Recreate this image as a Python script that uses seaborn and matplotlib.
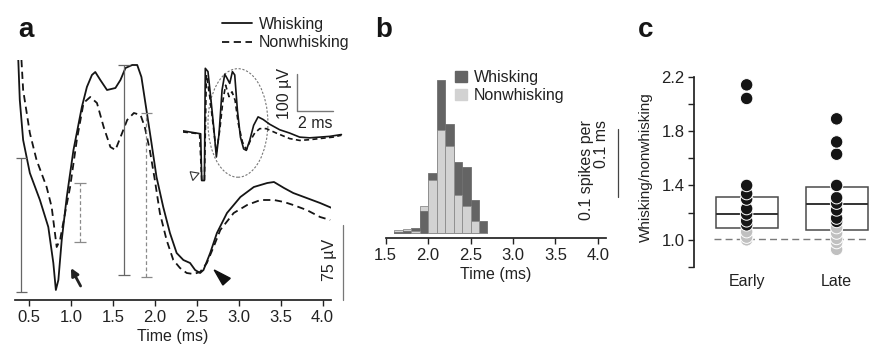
import numpy as np
import pandas as pd
import matplotlib
matplotlib.use("Agg")
import matplotlib.pyplot as plt
from matplotlib.lines import Line2D
from matplotlib.patches import Patch, Ellipse, Polygon
import seaborn as sns

# ---------------- data ----------------
# Panel a: averaged waveforms (time in ms, amplitude in uV above baseline)
t_whisk = [0.37, 0.39, 0.43, 0.51, 0.63, 0.73, 0.79, 0.82, 0.85, 0.89, 0.95, 1.03, 1.13, 1.19,
           1.25, 1.29, 1.35, 1.43, 1.53, 1.59, 1.65, 1.73, 1.79, 1.84, 1.90, 1.96, 2.02, 2.10,
           2.18, 2.26, 2.34, 2.42, 2.48, 2.54, 2.58, 2.66, 2.74, 2.86, 3.02, 3.18, 3.34, 3.42,
           3.54, 3.65, 3.81, 3.97, 4.11]
v_whisk = [245, 200, 160, 127, 100, 73, 37, 10, 20, 60, 103, 150, 193, 213,
           225, 228, 220, 210, 212, 220, 232, 235, 235, 223, 190, 157, 123, 93,
           67, 47, 40, 37, 30, 27, 30, 47, 67, 87, 103, 113, 117, 118,
           112, 107, 102, 97, 92]
t_nonwhisk = [0.41, 0.43, 0.51, 0.59, 0.71, 0.77, 0.83, 0.87, 0.93, 0.99, 1.07, 1.15, 1.23,
              1.31, 1.39, 1.47, 1.53, 1.61, 1.67, 1.75, 1.83, 1.88, 1.94, 2.00, 2.06, 2.14,
              2.22, 2.30, 2.38, 2.46, 2.54, 2.62, 2.70, 2.78, 2.94, 3.10, 3.26, 3.42, 3.54,
              3.65, 3.81, 3.97, 4.09]
v_nonwhisk = [240, 210, 167, 140, 113, 93, 53, 60, 87, 113, 160, 197, 203,
              197, 173, 153, 150, 167, 180, 187, 185, 173, 150, 120, 87, 60,
              40, 32, 27, 26, 28, 37, 53, 70, 87, 95, 100, 100, 98,
              95, 90, 83, 80]

# range bars in panel a: (time, low, high)
rng_whisk_t = [0.41, 1.63]
rng_whisk_lo = [8, 25]
rng_whisk_hi = [142, 235]
rng_non_t = [1.11, 1.90]
rng_non_lo = [58, 23]
rng_non_hi = [117, 187]

# inset raw traces (ms, uV)
ins_t_whisk = [0, 0.37, 0.75, 0.99, 1.05, 1.20, 1.25, 1.40, 1.55, 1.72, 1.87, 2.02, 2.19, 2.34,
               2.47, 2.62, 2.77, 2.90, 3.05, 3.22, 3.40, 3.55, 3.74, 3.96, 4.21, 4.49, 4.86,
               5.42, 5.98, 6.54, 7.10, 7.66, 8.22, 8.88]
ins_v_whisk = [3, 0, -3, -5, -132, -132, 173, 164, 96, 14, -68, -5, 114, 157,
               146, 132, 164, 155, 59, -14, -46, -50, -23, 18, 41, 34, 21,
               6, -3, -14, -16, -14, -12, -7]
ins_t_non = [0, 0.93, 1.05, 1.20, 1.31, 1.50, 1.68, 1.87, 2.06, 2.24, 2.39, 2.58, 2.75, 2.92,
             3.10, 3.33, 3.55, 3.78, 4.02, 4.30, 4.67, 5.23, 5.98, 6.54, 7.10, 7.66, 8.41, 8.88]
ins_v_non = [0, -5, -132, -132, 155, 96, 23, -55, 5, 86, 127, 96, 109, 86,
             23, -27, -48, -23, -3, 9, 9, -3, -18, -23, -21, -18, -14, -9]

# Panel b: latency histograms (spikes per 0.1 ms bin)
bin_edges = [1.6, 1.7, 1.8, 1.9, 2.0, 2.1, 2.2, 2.3, 2.4, 2.5, 2.6, 2.7]
bin_centers = [1.65, 1.75, 1.85, 1.95, 2.05, 2.15, 2.25, 2.35, 2.45, 2.55, 2.65]
hist_whisk = [0.002, 0.003, 0.008, 0.033, 0.088, 0.225, 0.160, 0.104, 0.097, 0.049, 0.017]
hist_nonwhisk = [0.004, 0.006, 0.003, 0.040, 0.078, 0.151, 0.128, 0.056, 0.040, 0.017, 0.0]

# Panel c: whisking / nonwhisking ratios
groups = ["Early", "Late"]
early_dark = [1.11, 1.14, 1.19, 1.23, 1.30, 1.34, 1.40, 2.04, 2.14]
early_gray = [1.00, 1.02, 1.06]
late_dark = [1.135, 1.16, 1.22, 1.27, 1.31, 1.40, 1.63, 1.72, 1.89]
late_gray = [0.93, 0.98, 1.01, 1.05, 1.09]
box_lo = [1.09, 1.075]
box_med = [1.19, 1.262]
box_hi = [1.314, 1.385]

# ---------------- style ----------------
sns.set_theme(style="ticks")
plt.rcParams["font.family"] = ["Liberation Sans", "DejaVu Sans"]
TXT = "#222222"
plt.rcParams.update({"text.color": TXT, "axes.labelcolor": TXT, "xtick.color": TXT,
                     "ytick.color": TXT, "axes.edgecolor": TXT})
TICK_FS = 12
LAB_FS = 11.5

W, H = 869, 350
fig = plt.figure(figsize=(W / 100, H / 100), dpi=100)


def frame(l, t, r, b):
    return [l / W, 1 - b / H, (r - l) / W, (b - t) / H]


# ---------------- panel a ----------------
ax_a = fig.add_axes(frame(15, 60, 331, 300))
sns.lineplot(x=t_whisk, y=v_whisk, ax=ax_a, color="#151515", lw=1.3, estimator=None, sort=False)
sns.lineplot(x=t_nonwhisk, y=v_nonwhisk, ax=ax_a, color="#151515", lw=1.3, estimator=None,
             sort=False, linestyle=(0, (4, 2.5)))
ax_a.set_xlim(0.333, 4.1)
ax_a.set_ylim(0, 240)
cap = 0.068
for x, lo, hi in zip(rng_whisk_t, rng_whisk_lo, rng_whisk_hi):
    ax_a.vlines(x, lo, hi, color="#666666", lw=0.9)
    ax_a.hlines([lo, hi], x - cap, x + cap, color="#666666", lw=0.9)
for x, lo, hi in zip(rng_non_t, rng_non_lo, rng_non_hi):
    ax_a.vlines(x, lo, hi, color="#8a8a8a", lw=0.9, linestyle=(0, (3, 2)))
    ax_a.hlines([lo, hi], x - cap, x + cap, color="#8a8a8a", lw=0.9)
ax_a.annotate("", xy=(1.0, 32), xytext=(1.115, 14),
              arrowprops=dict(arrowstyle="-|>", color="#222222", lw=2.0, mutation_scale=11,
                              shrinkA=0, shrinkB=0))
ax_a.add_patch(Polygon([(2.708, 30), (2.811, 15), (2.899, 21.7)], closed=True,
                       color="#111111"))
ax_a.plot([4.247, 4.247], [0, 75], color="#777777", lw=0.9, clip_on=False)
ax_a.text(4.08, 40, "75 µV", rotation=90, ha="center", va="center", fontsize=LAB_FS)
sns.despine(ax=ax_a, left=True)
ax_a.set_yticks([])
ax_a.set_xticks([0.5, 1.0, 1.5, 2.0, 2.5, 3.0, 3.5, 4.0])
ax_a.set_xticklabels(["0.5", "1.0", "1.5", "2.0", "2.5", "3.0", "3.5", "4.0"])
ax_a.tick_params(axis="x", length=4, width=1, labelsize=TICK_FS, pad=3)
ax_a.set_xlabel("Time (ms)", fontsize=LAB_FS, labelpad=3)
ax_a.set_ylabel("")
ax_a.legend(handles=[Line2D([], [], color="#151515", lw=1.3),
                     Line2D([], [], color="#151515", lw=1.3, linestyle=(0, (4, 2.5)))],
            labels=["Whisking", "Nonwhisking"], loc="center left",
            bbox_to_anchor=(222 / W, 1 - 33.5 / H), bbox_transform=fig.transFigure,
            frameon=False, handlelength=1.9, handletextpad=0.4, labelspacing=0.2,
            borderpad=0, borderaxespad=0, fontsize=LAB_FS)

# inset
ax_i = fig.add_axes(frame(183, 65, 343, 182))
sns.lineplot(x=ins_t_whisk, y=ins_v_whisk, ax=ax_i, color="#151515", lw=1.2,
             estimator=None, sort=False)
sns.lineplot(x=ins_t_non, y=ins_v_non, ax=ax_i, color="#151515", lw=1.2, estimator=None,
             sort=False, linestyle=(0, (3, 2)))
ax_i.set_xlim(0, 8.97)
ax_i.set_ylim(-136, 182)
ax_i.axis("off")
ax_i.add_patch(Ellipse((3.08, 24.5), 3.36, 295, fill=False, ec="#777777", lw=0.8,
                       linestyle=(0, (2, 1.5))))
ax_i.plot([6.41, 6.41, 8.41], [157.3, 57.3, 57.3], color="#777777", lw=1.0)
ax_i.text(5.70, 104, "100 µV", rotation=90, ha="center", va="center", fontsize=LAB_FS)
ax_i.text(7.40, 22, "2 ms", ha="center", va="center", fontsize=LAB_FS)
ax_i.add_patch(Polygon([(0.40, -108), (0.90, -112), (0.55, -132)], closed=True, fill=False,
                       ec="#333333", lw=0.8))

# ---------------- panel b ----------------
ax_b = fig.add_axes(frame(385.7, 70, 606.2, 238))
DARK, LIGHT = "#646464", "#d2d2d2"
n0 = len(ax_b.patches)
sns.histplot(x=bin_centers, weights=hist_whisk, bins=bin_edges, ax=ax_b, color=DARK,
             alpha=1, edgecolor="#707070", linewidth=0.6)
p_dark = ax_b.patches[n0:]
n1 = len(ax_b.patches)
sns.histplot(x=bin_centers, weights=hist_nonwhisk, bins=bin_edges, ax=ax_b, color=LIGHT,
             alpha=1, edgecolor="#8c8c8c", linewidth=0.6)
p_light = ax_b.patches[n1:]
for pd_, pl_, hd, hl in zip(p_dark, p_light, hist_whisk, hist_nonwhisk):
    if hl <= hd:
        pl_.set_zorder(3); pd_.set_zorder(2)
    else:
        pd_.set_zorder(3); pl_.set_zorder(2)
ax_b.set_xlim(1.5, 4.1)
ax_b.set_ylim(-0.0074, -0.0074 + 168 / 680)
sns.despine(ax=ax_b, left=True)
ax_b.set_yticks([])
ax_b.set_ylabel("")
ax_b.set_xticks([1.5, 2.0, 2.5, 3.0, 3.5, 4.0])
ax_b.set_xticklabels(["1.5", "2.0", "2.5", "3.0", "3.5", "4.0"])
ax_b.tick_params(axis="x", length=4, width=1, labelsize=TICK_FS, pad=3)
ax_b.set_xlabel("Time (ms)", fontsize=LAB_FS, labelpad=3)
xs = 4.1 + (618 - 606.2) / 84.8
ax_b.plot([xs, xs], [0.053, 0.153], color="#444444", lw=0.9, clip_on=False)
ax_b.text(xs - 0.28, 0.092, "0.1 spikes per\n0.1 ms", rotation=90, ha="center", va="center",
          multialignment="right", fontsize=LAB_FS, linespacing=1.0)
ax_b.legend(handles=[Patch(fc=DARK, ec=DARK), Patch(fc=LIGHT, ec=LIGHT)],
            labels=["Whisking", "Nonwhisking"], loc="center left",
            bbox_to_anchor=(455 / W, 1 - 86.5 / H), bbox_transform=fig.transFigure,
            frameon=False, handlelength=0.72, handleheight=0.72, handletextpad=0.45,
            labelspacing=0.2, borderpad=0, borderaxespad=0, fontsize=LAB_FS)

# ---------------- panel c ----------------
ax_c = fig.add_axes(frame(694, 76.7, 869, 267))
ratio_df = pd.DataFrame({
    "group": ["Early"] * len(early_gray) + ["Early"] * len(early_dark)
             + ["Late"] * len(late_gray) + ["Late"] * len(late_dark),
    "ratio": early_gray + early_dark + late_gray + late_dark,
    "kind": ["ns"] * len(early_gray) + ["sig"] * len(early_dark)
            + ["ns"] * len(late_gray) + ["sig"] * len(late_dark),
})
xpos = np.arange(len(groups))
ax_c.bar(xpos, np.array(box_hi) - np.array(box_lo), bottom=box_lo, width=0.69, fill=False,
         edgecolor="#4a4a4a", lw=1.1, zorder=1)
ax_c.hlines(box_med, xpos - 0.345, xpos + 0.345, color="#333333", lw=1.4, zorder=1)
ax_c.hlines(1.005, -0.363, 1.337, color="#7a7a7a", lw=1.0, linestyle=(0, (5, 3)), zorder=0.5)
sns.stripplot(data=ratio_df, x="group", y="ratio", hue="kind", order=groups,
              palette={"ns": "#c0c0c0", "sig": "#151515"}, jitter=False, size=9,
              edgecolor="white", linewidth=0.7, legend=False, ax=ax_c, zorder=3)
ax_c.set_xlim(-0.585, 1.36)
ax_c.set_ylim(0.8, 2.2)
sns.despine(ax=ax_c, bottom=True)
ax_c.set_yticks([1.0, 1.4, 1.8, 2.2])
ax_c.set_yticklabels(["1.0", "1.4", "1.8", "2.2"])
ax_c.set_yticks([0.8, 1.2, 1.6, 2.0], minor=True)
ax_c.tick_params(axis="y", which="both", length=4, width=1, labelsize=TICK_FS, pad=3)
ax_c.tick_params(axis="x", length=0, labelsize=LAB_FS, pad=5)
ax_c.set_xlabel("")
ax_c.set_ylabel("Whisking/nonwhisking", fontsize=11)
ax_c.yaxis.set_label_coords(-0.235, 0.525)

# panel letters
for x, lab in [(18, "a"), (375, "b"), (638, "c")]:
    fig.text(x / W, 1 - 37 / H, lab, fontsize=20, fontweight="bold", va="baseline",
             ha="left", color="#151515")

fig.savefig("out.png", dpi=100)
